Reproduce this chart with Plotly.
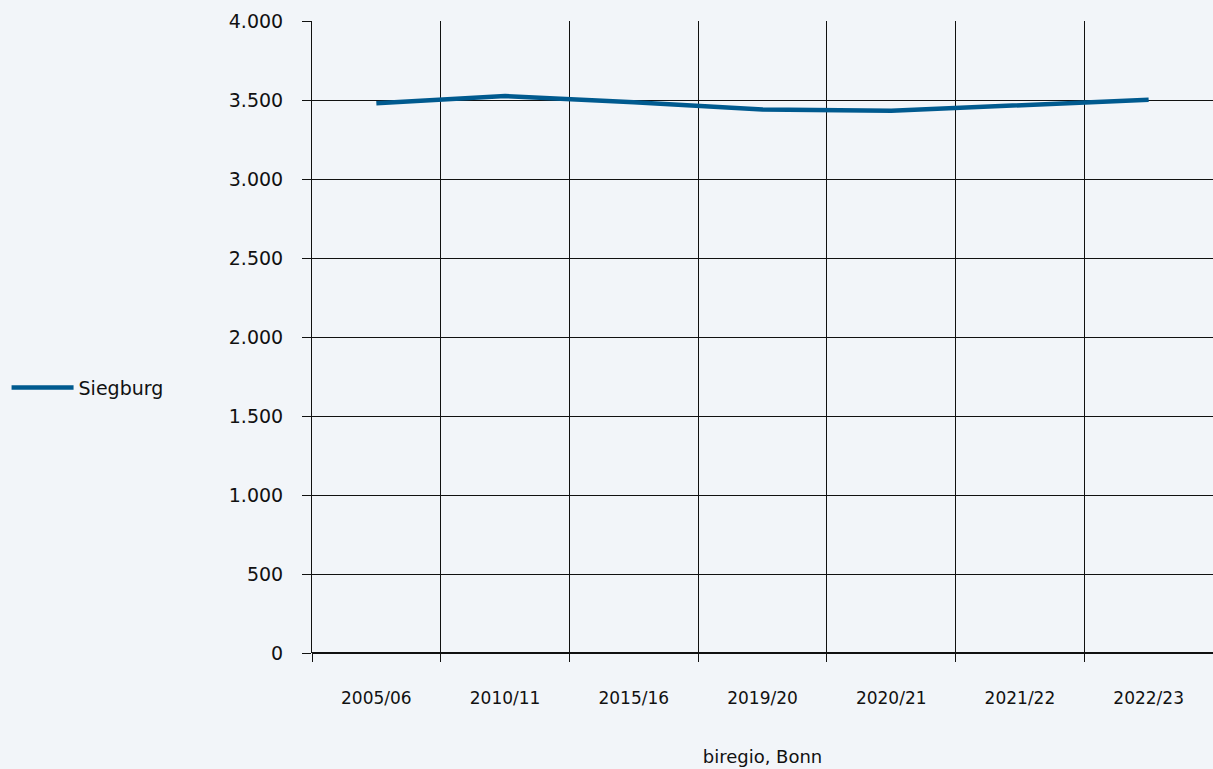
import plotly.graph_objects as go

# Schuljahre und Werte
years = ['2005/06', '2010/11', '2015/16', '2019/20', '2020/21', '2021/22', '2022/23']
siegburg = [3480, 3525, 3485, 3440, 3432, 3465, 3502]

bg = '#f2f5f9'
font_family = 'DejaVu Sans, sans-serif'

fig = go.Figure()
fig.add_trace(go.Scatter(x=years, y=siegburg,
                         mode='lines',
                         name='Siegburg',
                         line=dict(color='#005a8f', width=4.5)))

fig.update_layout(width=1213, height=769,
                  paper_bgcolor=bg, plot_bgcolor=bg,
                  separators=',.',
                  font=dict(family=font_family, size=18, color='#111111'),
                  margin=dict(l=312, r=0, t=21, b=116),
                  showlegend=True,
                  legend=dict(x=-0.339, y=0.42, xanchor='left', yanchor='middle',
                              bgcolor='rgba(0,0,0,0)', font=dict(size=19),
                              itemwidth=62),
                  xaxis=dict(type='category', tickson='boundaries',
                             showgrid=True, gridcolor='#111111', gridwidth=1,
                             ticks='outside', ticklen=8, tickcolor='#111111',
                             tickfont=dict(size=17), ticklabelstandoff=33,
                             range=[-0.5, 6.5],
                             title=dict(text='biregio, Bonn', standoff=43,
                                        font=dict(size=18))),
                  yaxis=dict(range=[0, 4000], dtick=500, tickformat=',d',
                             showgrid=True, gridcolor='#111111', gridwidth=1,
                             showline=True, linecolor='#111111', linewidth=1,
                             zeroline=True, zerolinecolor='#111111', zerolinewidth=2,
                             ticks='outside', ticklen=9, tickcolor='#111111',
                             tickfont=dict(size=19), ticklabelstandoff=15))

fig.write_html('out.html', config={'displayModeBar': False},
               post_script="document.body.style.margin='0';")
